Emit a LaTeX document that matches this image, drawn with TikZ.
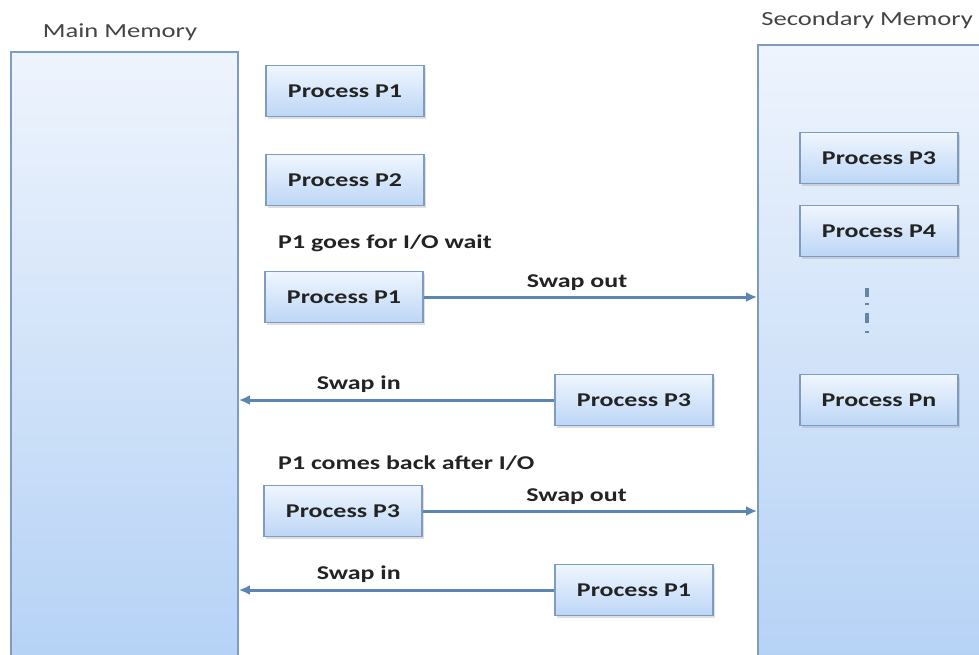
\documentclass[tikz,border=0pt]{standalone}
\usepackage{fontspec}
\setmainfont{Carlito}[FakeStretch=1.33]
\usepackage{tikz}
\usetikzlibrary{arrows.meta,positioning,shadows}
\definecolor{memtop}{RGB}{238,244,253}
\definecolor{membot}{RGB}{178,208,245}
\definecolor{boxtop}{RGB}{240,246,254}
\definecolor{boxbot}{RGB}{188,214,246}
\definecolor{boxedge}{RGB}{127,155,191}
\definecolor{swaparrow}{RGB}{91,134,179}
\definecolor{txtdark}{RGB}{35,35,35}

\tikzset{
  memblock/.style={draw=boxedge, line width=1.8pt, top color=memtop, bottom color=membot, inner sep=0pt},
  procbox/.style={draw=boxedge, line width=1.3pt, top color=boxtop, bottom color=boxbot,
    minimum width=158pt, minimum height=51pt, inner sep=0pt, text=txtdark,
    font=\fontsize{19.5}{22}\selectfont\bfseries,
    drop shadow={shadow xshift=1.5pt, shadow yshift=-2pt, opacity=0.25}},
  note/.style={text=txtdark, inner sep=2pt, font=\fontsize{19.5}{22}\selectfont\bfseries},
  title/.style={text=txtdark!85, inner sep=2pt, font=\fontsize{20}{22}\selectfont},
  swap/.style={-{Latex[length=11pt,width=10pt]}, swaparrow, line width=3pt}
}

\begin{document}
\begin{tikzpicture}[x=1pt, y=-1pt]
  \path[use as bounding box, clip] (0,0) rectangle (979,654);
  \fill[white] (0,0) rectangle (979,654);
  % --- memories ---
  \node[memblock, minimum width=227pt, minimum height=640pt] (mainmem) at (124.5,372) {};
  \node[memblock, minimum width=252pt, minimum height=655pt] (secmem) at (884,372.5) {};
  \node[title] (maintitle) at (120,32) {Main Memory};
  \node[title, anchor=east] (sectitle) at (975,20) {Secondary Memory};
  % --- secondary memory contents ---
  \node[procbox] (d1) at (879,158) {Process P3};
  \node[procbox] (d2) at (879,231) {Process P4};
  \node[procbox] (dn) at (879,400) {Process Pn};
  \draw[swaparrow!70!gray, line width=3.5pt, dash pattern=on 9pt off 6pt on 2pt off 8pt on 10pt off 8pt on 2pt off 20pt]
    (867,288) -- (867,340);
  % --- processes in main memory ---
  \node[procbox] (m1) at (345,91) {Process P1};
  \node[procbox] (m2) at (345,180) {Process P2};
  \node[note, anchor=west] (iowait) at (276,243) {P1 goes for I/O wait};
  \node[procbox] (m3) at (344,297) {Process P1};
  \node[procbox] (s1) at (634,400) {Process P3};
  \node[note, anchor=west] (ioback) at (276,463) {P1 comes back after I/O};
  \node[procbox] (m4) at (343,511) {Process P3};
  \node[procbox] (s2) at (634,590) {Process P1};
  % --- swapping ---
  \draw[swap] (m3.east) -- node[note, pos=0.46, above=3pt] (out1) {Swap out} (m3.east -| secmem.west);
  \draw[swap] (s1.west) -- node[note, pos=0.62, above=4pt] (in1) {Swap in} (s1.west -| mainmem.east);
  \draw[swap] (m4.east) -- node[note, pos=0.46, above=3pt] (out2) {Swap out} (m4.east -| secmem.west);
  \draw[swap] (s2.west) -- node[note, pos=0.62, above=4pt] (in2) {Swap in} (s2.west -| mainmem.east);
\end{tikzpicture}
\end{document}
